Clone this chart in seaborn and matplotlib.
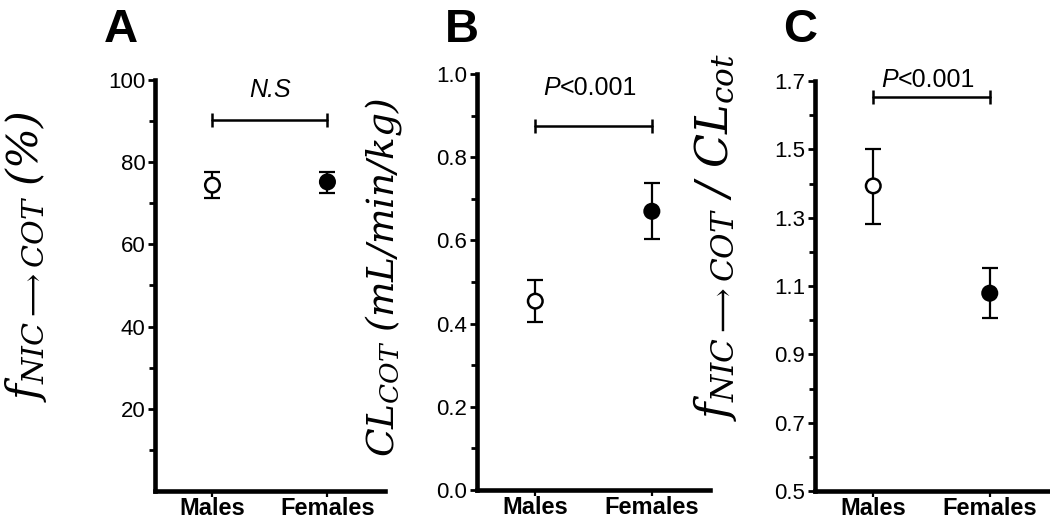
import matplotlib
matplotlib.use("Agg")
import matplotlib.pyplot as plt
import pandas as pd
import seaborn as sns

# --- data (mean and error-bar ends) ---
groups = ["Males", "Females"]

frac_mean = [74.4, 75.2]
frac_low = [71.2, 72.5]
frac_high = [77.6, 77.6]

cl_mean = [0.454, 0.670]
cl_low = [0.403, 0.603]
cl_high = [0.505, 0.738]

ratio_mean = [1.393, 1.079]
ratio_low = [1.282, 1.006]
ratio_high = [1.502, 1.153]

panel_letters = ["A", "B", "C"]
sig_labels = ["N.S", "P<0.001", "P<0.001"]

# --- style ---
sns.set_style("ticks")
plt.rcParams.update(
    {
        "font.family": ["Liberation Sans", "DejaVu Sans"],
        "mathtext.fontset": "custom",
        "mathtext.it": "DejaVu Serif:italic",
        "mathtext.rm": "DejaVu Serif:italic",
        "mathtext.bf": "DejaVu Serif:bold",
        "axes.edgecolor": "black",
        "text.color": "black",
        "axes.labelcolor": "black",
        "xtick.color": "black",
        "ytick.color": "black",
    }
)

panels = [
    {
        "mean": frac_mean, "low": frac_low, "high": frac_high,
        "ylim": (0, 100), "major": [20, 40, 60, 80, 100], "minor": [10, 30, 50, 70, 90],
        "fmt": "{:.0f}", "ylabel": r"$f_{NIC\longrightarrow COT}\ (\%)$", "label_size": 31,
        "label_xy": (-0.56, 0.57), "bracket": 90.2, "text_y": 97.6,
        "rect": [0.1476, 0.054, 0.219, 0.792], "letter_x": 121 / 1050,
    },
    {
        "mean": cl_mean, "low": cl_low, "high": cl_high,
        "ylim": (0, 1.0), "major": [0.0, 0.2, 0.4, 0.6, 0.8, 1.0],
        "minor": [0.1, 0.3, 0.5, 0.7, 0.9],
        "fmt": "{:.1f}", "ylabel": r"$CL_{COT}\ (mL/min/kg)$", "label_size": 27,
        "label_xy": (-0.40, 0.51), "bracket": 0.875, "text_y": 0.966,
        "rect": [0.4543, 0.0559, 0.222, 0.8015], "letter_x": 462 / 1050,
    },
    {
        "mean": ratio_mean, "low": ratio_low, "high": ratio_high,
        "ylim": (0.5, 1.7), "major": [0.5, 0.7, 0.9, 1.1, 1.3, 1.5, 1.7],
        "minor": [0.6, 0.8, 1.0, 1.2, 1.4, 1.6],
        "fmt": "{:.1f}", "ylabel": r"$f_{NIC\longrightarrow COT}\ /\ CL_{cot}$", "label_size": 32,
        "label_xy": (-0.43, 0.62), "bracket": 1.653, "text_y": 1.703,
        "rect": [0.7762, 0.0539, 0.2219, 0.790], "letter_x": 800 / 1050,
    },
]

fig = plt.figure(figsize=(10.5, 5.19), dpi=100)

for letter, sig, p in zip(panel_letters, sig_labels, panels):
    ax = fig.add_axes(p["rect"])
    df = pd.DataFrame({"Sex": groups, "Value": p["mean"]})
    yerr = [
        [m - lo for m, lo in zip(p["mean"], p["low"])],
        [hi - m for m, hi in zip(p["mean"], p["high"])],
    ]
    ax.errorbar(
        [0, 1], p["mean"], yerr=yerr, fmt="none", ecolor="black",
        elinewidth=1.6, capsize=6, capthick=1.6, zorder=2,
    )
    sns.scatterplot(
        data=df, x="Sex", y="Value", hue="Sex",
        palette={"Males": "white", "Females": "black"},
        s=110, edgecolor="black", linewidth=1.8, legend=False, zorder=3, ax=ax,
    )

    ax.set_xlim(-0.5, 1.5)
    ax.set_ylim(*p["ylim"])
    ax.set_xticks([0, 1])
    ax.set_xticklabels(groups, fontweight="bold", fontsize=17)
    ax.set_yticks(p["major"])
    ax.set_yticklabels([p["fmt"].format(v) for v in p["major"]], fontsize=16)
    ax.set_yticks(p["minor"], minor=True)
    ax.set_xlabel("")

    sns.despine(ax=ax)
    for side in ["left", "bottom"]:
        ax.spines[side].set_linewidth(3.3)
    ax.tick_params(axis="y", which="major", length=5, width=2, pad=2)
    ax.tick_params(axis="y", which="minor", length=4, width=2)
    ax.tick_params(axis="x", length=4, width=1.6, pad=0.5)

    ax.set_ylabel(p["ylabel"], fontsize=p["label_size"])
    ax.yaxis.label.set_rotation_mode("default")
    ax.yaxis.label.set_va("center")
    ax.yaxis.set_label_coords(*p["label_xy"])

    # significance bracket
    ax.plot(
        [0, 1], [p["bracket"], p["bracket"]], color="black", lw=1.8,
        marker="|", markersize=10, markeredgewidth=1.8, clip_on=False,
    )
    if sig.startswith("P"):
        ax.annotate(
            "P", xy=(0.5, p["text_y"]), xytext=(-24, 0), textcoords="offset points",
            ha="right", va="center", fontsize=18, fontstyle="italic",
            annotation_clip=False,
        )
        ax.annotate(
            sig[1:], xy=(0.5, p["text_y"]), xytext=(-24, 0), textcoords="offset points",
            ha="left", va="center", fontsize=18, annotation_clip=False,
        )
    else:
        ax.text(
            0.5, p["text_y"], sig, ha="center", va="center", fontsize=18,
            fontstyle="italic", clip_on=False,
        )

    fig.text(
        p["letter_x"], 0.985, letter, ha="center", va="top",
        fontsize=34, fontweight="bold",
    )

fig.savefig("out.png", dpi=100)
